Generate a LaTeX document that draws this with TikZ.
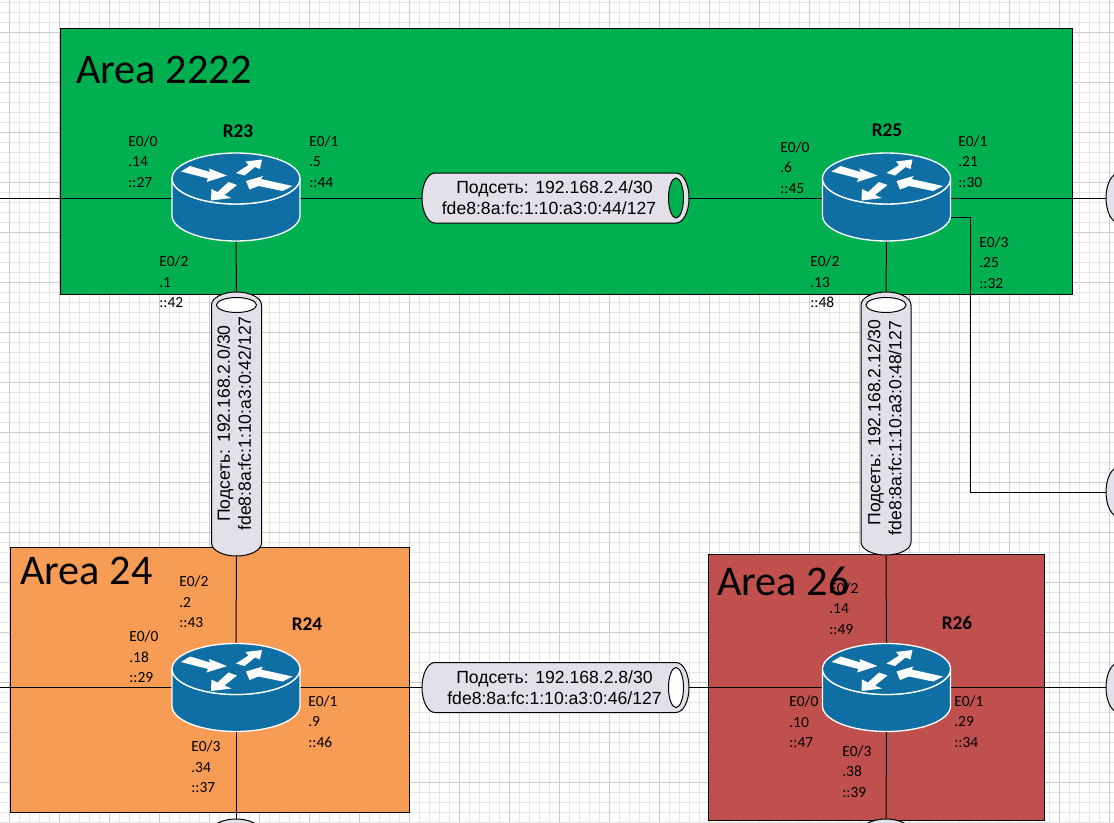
\documentclass[tikz,border=0pt]{standalone}
\usepackage{fontspec}
\usepackage{xcolor}
\usepackage{tikz}
\usetikzlibrary{positioning,calc}
\setmainfont{Carlito}
\newfontfamily\tubefont{Liberation Sans}

\definecolor{areagreen}{HTML}{00B050}
\definecolor{areaorange}{HTML}{F79C55}
\definecolor{areared}{HTML}{C0504D}
\definecolor{routerblue}{HTML}{0F6EA3}
\definecolor{tubefill}{HTML}{E3E0EA}

% router body, drawn over its (empty) named node
\newcommand{\routershape}[1]{
  \begin{scope}[shift={(#1.center)}]
    \draw[routerline] (-64,-18.5) -- (-64,18.5) arc[start angle=180,end angle=360,x radius=48pt,y radius=19.1pt] -- (64,-18.5) arc[start angle=0,end angle=-180,x radius=48pt,y radius=19.1pt] -- cycle;
    \draw[routerline] (0,-18.5) ellipse (64 and 25.5);
    \begin{scope}[shift={(0,-18.5)}]
      \fill[white] (-55,-7) -- (-46,-12.5) -- (-26,-6.5) -- (-27,-10) -- (-9,-3) -- (-29.5,3.5) -- (-28,0) -- cycle;
      \fill[white] (0,-5.5) -- (8.5,-3) -- (19,-11.5) -- (24,-9.5) -- (26,-19) -- (9.5,-17) -- (12.5,-13.5) -- cycle;
      \fill[white] (10,2.5) -- (27,-2.5) -- (25,0.5) -- (56.5,7.5) -- (46.5,12.5) -- (22.5,7.5) -- (13.5,11) -- cycle;
      \fill[white] (-25,22) -- (-24.5,10.5) -- (-18.5,13.5) -- (-7.5,3.5) -- (1,6.5) -- (-11.5,16.5) -- (-4.5,19.5) -- cycle;
    \end{scope}
  \end{scope}
}

% name, centre, angle, length, colour seen through the open end
\newcommand{\tube}[5]{
  \begin{scope}[shift={(#2)},rotate=#3,y=0.75pt]
    \draw[tubeline] ({-#4/2+13},25) -- ({#4/2-13},25) arc[start angle=90,end angle=-90,x radius=9.75pt,y radius=18.75pt] -- ({-#4/2+13},-25) arc[start angle=270,end angle=90,x radius=9.75pt,y radius=18.75pt] -- cycle;
    \draw[tubeline,fill=#5] ({#4/2-13},0) ellipse (7.5 and 20);
    \node[tubebox,minimum width=#4*0.75pt,rotate=#3] (#1) at (0,0) {};
  \end{scope}
}

\begin{document}
\begin{tikzpicture}[
    x=0.75pt,y=-0.75pt,
    gridminor/.style={draw=black!10,line width=0.4pt},
    gridmajor/.style={draw=black!20,line width=0.4pt},
    areabox/.style={draw=black,line width=0.75pt},
    areatitle/.style={anchor=west,inner sep=0pt,font=\fontsize{31.7}{34}\selectfont},
    routerbox/.style={minimum width=96pt,minimum height=66pt,inner sep=0pt},
    routerline/.style={draw=white,line width=1pt,fill=routerblue},
    routername/.style={inner sep=0pt,font=\fontsize{14.5}{16}\selectfont\bfseries},
    iflabel/.style={anchor=west,inner sep=0pt,align=left,font=\fontsize{11.6}{15.4}\selectfont},
    tubeline/.style={draw=black,line width=0.75pt,fill=tubefill},
    tubebox/.style={minimum height=37.5pt,inner sep=0pt},
    tubetext/.style={inner sep=0pt,align=center,font=\fontsize{13.2}{15.75}\selectfont\tubefont},
    link/.style={draw=black,line width=0.75pt}
]
\useasboundingbox (0,0) rectangle (1114,822);
\clip (0,0) rectangle (1114,822);
\fill[white] (0,0) rectangle (1114,822);

% page grid
\foreach \gx in {9,19,...,1109} \draw[gridminor] (\gx,0) -- (\gx,822);
\foreach \gy in {2,12,...,822} \draw[gridminor] (0,\gy) -- (1114,\gy);
\foreach \gx in {9,59,...,1109} \draw[gridmajor] (\gx,0) -- (\gx,822);
\foreach \gy in {32,82,...,822} \draw[gridmajor] (0,\gy) -- (1114,\gy);

% areas
\draw[areabox,fill=areagreen] (60,28) rectangle (1072,294);
\draw[areabox,fill=areaorange] (10,547) rectangle (409,812);
\draw[areabox,fill=areared] (708,554) rectangle (1044,820);

% routers and horizontal tubes
\node[routerbox] (R23) at (236,197) {};
\node[routerbox] (R25) at (886.5,197) {};
\node[routerbox] (R24) at (236,687.5) {};
\node[routerbox] (R26) at (886.5,687.5) {};

\tube{sub4}{555.5,198}{0}{267}{areagreen}
\tube{sub8}{555.5,687.5}{0}{267}{white}
\tube{sub0}{236.5,424}{90}{264}{white}
\tube{sub12}{886,423.5}{90}{263}{white}

% tubes cut by the page edge
\tube{subright1}{1239.5,198}{0}{267}{white}
\tube{subright2}{1239.5,492}{0}{267}{white}
\tube{subright3}{1239.5,687.5}{0}{267}{white}
\tube{subbottom1}{236,951}{90}{264}{white}
\tube{subbottom2}{886,951}{90}{264}{white}

\coordinate (edgeR23) at (0,198);
\coordinate (edgeR24) at (0,687.5);
\coordinate (bendtop) at (970,217);

\draw[link] (edgeR23) -- (R23.west |- sub4.west);
\draw[link] (R23.east |- sub4.west) -- (sub4.west);
\draw[link] (sub4.east) -- (R25.west |- sub4.east);
\draw[link] (R25.east |- sub4.east) -- (subright1.west);
\draw[link] (R25.east |- bendtop) -- (bendtop) |- (subright2.west);
\draw[link] (R23.south) -- (sub0.east);
\draw[link] (R25.south) -- (sub12.east);
\draw[link] (sub0.west) -- (R24.north);
\draw[link] (sub12.west) -- (R26.north);
\draw[link] (edgeR24) -- (R24.west);
\draw[link] (R24.east) -- (sub8.west);
\draw[link] (sub8.east) -- (R26.west);
\draw[link] (R26.east) -- (subright3.west);
\draw[link] (R24.south) -- (subbottom1.east);
\draw[link] (R26.south) -- (subbottom2.east);

\routershape{R23}
\routershape{R25}
\routershape{R24}
\routershape{R26}

% router names
\node[routername] (nameR23) at (238,131) {R23};
\node[routername] (nameR25) at (887,130.5) {R25};
\node[routername] (nameR24) at (307,624) {R24};
\node[routername] (nameR26) at (957,622.5) {R26};

% interface labels
\node[iflabel] (r23a) at (128,161.5) {E0/0\\.14\\::27};
\node[iflabel] (r23b) at (309,161.5) {E0/1\\.5\\::44};
\node[iflabel] (r23c) at (159,282) {E0/2\\.1\\::42};
\node[iflabel] (r25a) at (780,167.5) {E0/0\\.6\\::45};
\node[iflabel] (r25b) at (958,161.5) {E0/1\\.21\\::30};
\node[iflabel] (r25c) at (810,282) {E0/2\\.13\\::48};
\node[iflabel] (r25d) at (979,262.5) {E0/3\\.25\\::32};
\node[iflabel] (r24a) at (129,657) {E0/0\\.18\\::29};
\node[iflabel] (r24b) at (308,721.5) {E0/1\\.9\\::46};
\node[iflabel] (r24c) at (179,602) {E0/2\\.2\\::43};
\node[iflabel] (r24d) at (191,767) {E0/3\\.34\\::37};
\node[iflabel] (r26a) at (789,722) {E0/0\\.10\\::47};
\node[iflabel] (r26b) at (954,721.5) {E0/1\\.29\\::34};
\node[iflabel] (r26c) at (829,608.5) {E0/2\\.14\\::49};
\node[iflabel] (r26d) at (842,771.5) {E0/3\\.38\\::39};

% tube texts
\node[tubetext] (sub4text) at (549,198) {\hspace*{8.25pt}Подсеть: 192.168.2.4/30\\fde8:8a:fc:1:10:a3:0:44/127};
\node[tubetext] (sub8text) at (554.5,687.5) {Подсеть: 192.168.2.8/30\\fde8:8a:fc:1:10:a3:0:46/127};
\node[tubetext,rotate=90] (sub0text) at (234,423.5) {Подсеть: 192.168.2.0/30\\fde8:8a:fc:1:10:a3:0:42/127};
\node[tubetext,rotate=90] (sub12text) at (884.5,428) {\hspace*{8.25pt}Подсеть: 192.168.2.12/30\\fde8:8a:fc:1:10:a3:0:48/127};

% area titles
\node[areatitle] (title2222) at (76,70) {Area 2222};
\node[areatitle] (title24) at (20,571) {Area 24};
\node[areatitle] (title26) at (717,581) {Area 26};
\end{tikzpicture}
\end{document}
